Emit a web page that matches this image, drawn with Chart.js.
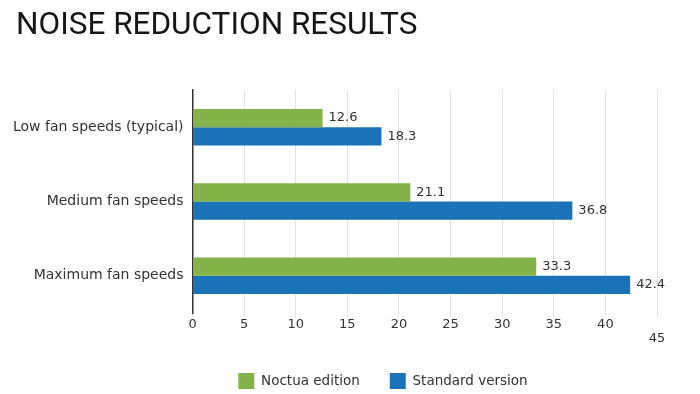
<!DOCTYPE html>
<html><head><meta charset="utf-8">
<script src="https://cdn.jsdelivr.net/npm/chart.js@4"></script>
<style>
html,body{margin:0;padding:0;background:#fff}
#w{position:relative;width:700px;height:394px}
#t{position:absolute;left:16px;top:8px;margin:0;font:normal 31.5px/1 Roboto,'DejaVu Sans',sans-serif;color:#161616;white-space:nowrap}
canvas{position:absolute;left:0;top:0}
</style>
</head><body><div id="w"><canvas id="c" width="700" height="394"></canvas><h1 id="t"></h1></div>
<script>
const categories = ["Low fan speeds (typical)", "Medium fan speeds", "Maximum fan speeds"];
const noctuaEdition = [12.6, 21.1, 33.3];
const standardVersion = [18.3, 36.8, 42.4];
const seriesNames = ["Noctua edition", "Standard version"];
const titleText = "NOISE REDUCTION RESULTS";

document.getElementById('t').textContent = titleText;

const FONT = "'DejaVu Sans', sans-serif";

const valueLabels = {
  id: 'valueLabels',
  afterDatasetsDraw(chart) {
    const ctx = chart.ctx;
    ctx.save();
    ctx.font = "13px " + FONT;
    ctx.fillStyle = "#333";
    ctx.textBaseline = "middle";
    ctx.textAlign = "left";
    chart.data.datasets.forEach((ds, i) => {
      chart.getDatasetMeta(i).data.forEach((bar, j) => {
        ctx.fillText(ds.data[j].toFixed(1), bar.x + 6, bar.y);
      });
    });
    ctx.restore();
  }
};

const legendShift = {
  id: 'legendShift',
  afterLayout(chart) {
    const L = chart.legend;
    if (!L) return;
    const c = 383;
    const dx = c - (L.left + L.right) / 2;
    L.left += dx; L.right += dx;
    if (L.legendHitBoxes) L.legendHitBoxes.forEach(b => { b.left += dx; });
  }
};

new Chart(document.getElementById('c'), {
  type: 'bar',
  data: {
    labels: categories,
    datasets: [
      { label: seriesNames[0], data: noctuaEdition, backgroundColor: '#84b449' },
      { label: seriesNames[1], data: standardVersion, backgroundColor: '#1a72b7' }
    ]
  },
  options: {
    indexAxis: 'y',
    responsive: false,
    animation: false,
    devicePixelRatio: 1,
    layout: { padding: { left: 4, right: 43, top: 90, bottom: -5 } },
    datasets: { bar: { barPercentage: 1, categoryPercentage: 0.49 } },
    scales: {
      x: {
        min: 0, max: 45,
        ticks: {
          stepSize: 5,
          color: '#333',
          font: { family: FONT, size: 13, lineHeight: 1.05 },
          padding: 1,
          callback: (v) => v === 45 ? ['', '45'] : v
        },
        grid: { color: '#e2e2e2', tickLength: 4, drawTicks: true },
        border: { display: false },
        afterFit: (s) => { s.height = 30; }
      },
      y: {
        ticks: { color: '#333', font: { family: FONT, size: 14 }, padding: 9 },
        grid: { display: false, tickLength: 0 },
        border: { display: true, color: '#333', width: 1.5 }
      }
    },
    plugins: {
      title: { display: false },
      legend: {
        position: 'bottom',
        labels: { color: '#333', font: { family: FONT, size: 13.5 }, boxWidth: 16, boxHeight: 16, padding: 30 }
      },
      tooltip: { enabled: false }
    }
  },
  plugins: [valueLabels, legendShift]
});
</script>
</body></html>
